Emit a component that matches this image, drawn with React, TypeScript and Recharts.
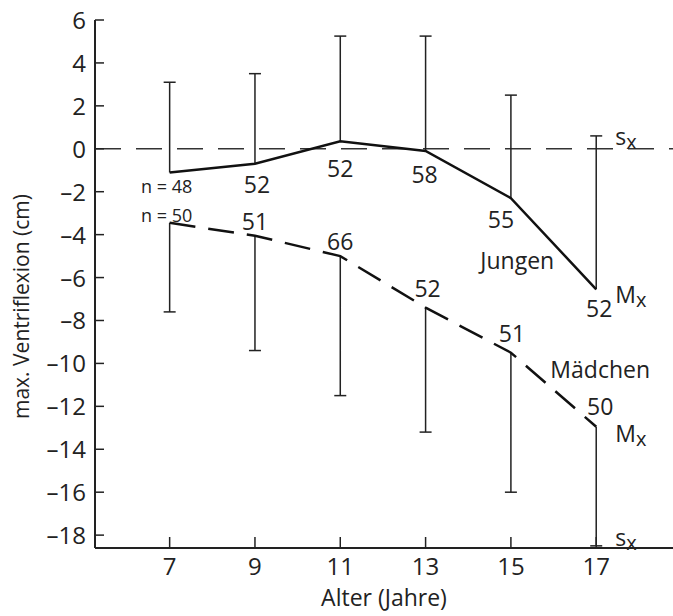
import React from 'react';
import { LineChart, Line, XAxis, YAxis, ReferenceLine } from 'recharts';

// values
const ages = [7, 9, 11, 13, 15, 17];
const boysMean = [-1.1, -0.7, 0.35, -0.1, -2.3, -6.55];
const boysUpper = [3.1, 3.5, 5.25, 5.25, 2.5, 0.6];
const girlsMean = [-3.45, -4.05, -5.0, -7.4, -9.5, -12.95];
const girlsLower = [-7.6, -9.4, -11.5, -13.2, -16.0, -18.5];
const boysN = ['n = 48', '52', '52', '58', '55', '52'];
const girlsN = ['n = 50', '51', '66', '52', '51', '50'];
const xTicks = [7, 9, 11, 13, 15, 17];
const yTicks = [6, 4, 2, 0, -2, -4, -6, -8, -10, -12, -14, -16, -18];

// label placement relative to each point (layout only)
const boysLabelOffset = [[-3, 21], [2, 29], [0, 36], [-1, 32], [-10, 30], [3, 28]];
const girlsLabelOffset = [[-3, -1], [0, -6], [0, -6], [2, -11], [1, -11], [4, -12]];

const INK = '#222';
const FONT = '"Open Sans", sans-serif';

const boysData = ages.map((x, i) => ({ x, y: boysMean[i] }));
const girlsData = ages.map((x, i) => ({ x, y: girlsMean[i] }));

const boysBars = ages.flatMap((x, i) => [
  { x, y: boysMean[i], cap: false },
  { x, y: boysUpper[i], cap: true },
  { x, y: null, cap: false },
]);
const girlsBars = ages.flatMap((x, i) => [
  { x, y: girlsMean[i], cap: false },
  { x, y: girlsLower[i], cap: true },
  { x, y: null, cap: false },
]);

const fmt = (v: number) => (v < 0 ? '\u2013' + Math.abs(v) : String(v));

const YTick = ({ x, y, payload }: any) => (
  <g>
    <line x1={x} x2={x + 9} y1={y} y2={y} stroke={INK} strokeWidth={1.5} />
    <text x={x - 9} y={y} dy={9} textAnchor="end" fontSize={24} fill={INK} fontFamily={FONT}>
      {fmt(payload.value)}
    </text>
  </g>
);

const XTick = ({ x, y, payload }: any) => (
  <g>
    <line x1={x} x2={x} y1={y} y2={y - 11} stroke={INK} strokeWidth={1.5} />
    <text x={x} y={y} dy={27} textAnchor="middle" fontSize={24} fill={INK} fontFamily={FONT}>
      {payload.value}
    </text>
  </g>
);

const Sub = ({ x, y, main }: { x: number; y: number; main: string }) => (
  <text x={x} y={y} fontSize={23} fill={INK} fontFamily={FONT}>
    {main}
    <tspan dy={4} fontSize={20}>x</tspan>
  </text>
);

const capDot = (p: any) => {
  if (!p.payload?.cap || p.cy == null) return <g key={`d-${p.index}`} />;
  return (
    <line
      key={`d-${p.index}`}
      x1={p.cx - 6}
      x2={p.cx + 6}
      y1={p.cy}
      y2={p.cy}
      stroke={INK}
      strokeWidth={1.5}
    />
  );
};

const boysLabel = (p: any) => {
  const i = p.index;
  const [dx, dy] = boysLabelOffset[i];
  return (
    <g key={`bl-${i}`}>
      <text
        x={p.x + dx}
        y={p.y + dy}
        textAnchor="middle"
        fontSize={i === 0 ? 18 : 23}
        fill={INK}
        fontFamily={FONT}
      >
        {boysN[i]}
      </text>
      {i === ages.length - 1 && (
        <>
          <text x={p.x - 79} y={p.y - 20} textAnchor="middle" fontSize={23} fill={INK} fontFamily={FONT}>
            Jungen
          </text>
          <Sub x={p.x + 19} y={p.y + 14} main="M" />
        </>
      )}
    </g>
  );
};

const girlsLabel = (p: any) => {
  const i = p.index;
  const [dx, dy] = girlsLabelOffset[i];
  return (
    <g key={`gl-${i}`}>
      <text
        x={p.x + dx}
        y={p.y + dy}
        textAnchor="middle"
        fontSize={i === 0 ? 18 : 23}
        fill={INK}
        fontFamily={FONT}
      >
        {girlsN[i]}
      </text>
      {i === ages.length - 1 && (
        <>
          <text x={p.x + 4} y={p.y - 49} textAnchor="middle" fontSize={23} fill={INK} fontFamily={FONT}>
            Mädchen
          </text>
          <Sub x={p.x + 19} y={p.y + 15} main="M" />
        </>
      )}
    </g>
  );
};

// "sx" next to the last error bar end
const barLabel = (bars: any[], dy: number) => (p: any) => {
  const last = bars.length - 2;
  if (p.index !== last) return <g key={`sl-${p.index}`} />;
  return (
    <g key={`sl-${p.index}`}>
      <Sub x={p.x + 19} y={p.y + dy} main="s" />
    </g>
  );
};

export default function App() {
  return (
    <div style={{ position: 'absolute', left: 0, top: 0, width: 673, height: 616, background: '#fff' }}>
      <LineChart width={673} height={616} margin={{ top: 20, right: 0, bottom: 0, left: 0 }}>
        <XAxis
          type="number"
          dataKey="x"
          domain={[5.25, 18.8]}
          ticks={xTicks}
          allowDataOverflow
          height={68}
          tickSize={0}
          tickMargin={0}
          tickLine={false}
          tick={<XTick />}
          axisLine={{ stroke: INK, strokeWidth: 2 }}
          label={{
            value: 'Alter (Jahre)',
            position: 'insideBottom',
            offset: 10,
            dx: 0,
            style: { fontSize: 23, fill: INK, fontFamily: FONT },
          }}
        />
        <YAxis
          type="number"
          domain={[-18.6, 6]}
          ticks={yTicks}
          allowDataOverflow
          width={95}
          tickSize={0}
          tickMargin={0}
          tickLine={false}
          tick={<YTick />}
          axisLine={{ stroke: INK, strokeWidth: 2 }}
          label={{
            value: 'max. Ventriflexion (cm)',
            angle: -90,
            position: 'insideLeft',
            offset: 22,
            dy: 135,
            style: { fontSize: 21, fill: INK, fontFamily: FONT },
          }}
        />
        <ReferenceLine y={0} stroke="#333" strokeWidth={1.5} strokeDasharray="26 15" />
        <Line
          data={boysBars}
          dataKey="y"
          stroke={INK}
          strokeWidth={1.5}
          dot={capDot}
          activeDot={false}
          label={barLabel(boysBars, 9)}
          isAnimationActive={false}
        />
        <Line
          data={girlsBars}
          dataKey="y"
          stroke={INK}
          strokeWidth={1.5}
          dot={capDot}
          activeDot={false}
          label={barLabel(girlsBars, 0)}
          isAnimationActive={false}
        />
        <Line
          data={boysData}
          dataKey="y"
          type="linear"
          stroke="#111"
          strokeWidth={2.5}
          dot={false}
          activeDot={false}
          label={boysLabel}
          isAnimationActive={false}
        />
        <Line
          data={girlsData}
          dataKey="y"
          type="linear"
          stroke="#111"
          strokeWidth={2.5}
          strokeDasharray="26 13"
          dot={false}
          activeDot={false}
          label={girlsLabel}
          isAnimationActive={false}
        />
      </LineChart>
    </div>
  );
}
